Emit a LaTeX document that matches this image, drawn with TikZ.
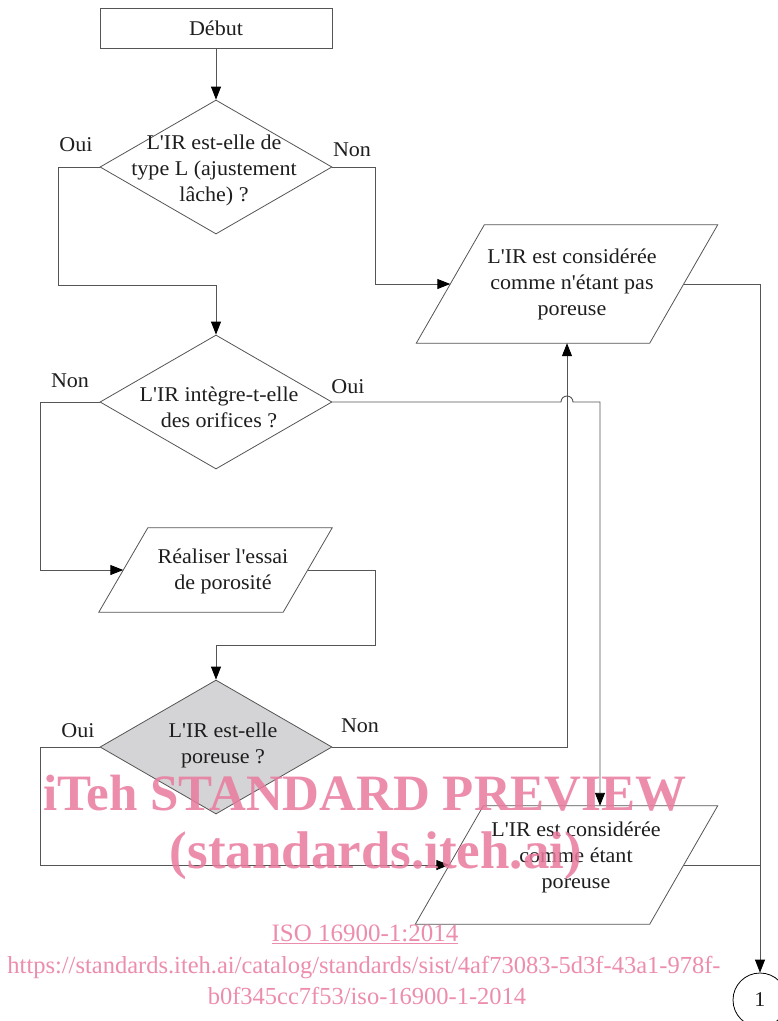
\documentclass[tikz,border=0pt]{standalone}
\usepackage{fontspec}
\setmainfont[FakeStretch=1.05,Ligatures=TeXOff]{Liberation Serif}
\newfontfamily\wmfont{Liberation Serif}
\usetikzlibrary{shapes.geometric,arrows.meta,calc}
\definecolor{ln}{RGB}{85,85,85}
\definecolor{tx}{RGB}{30,30,30}
\definecolor{wm}{RGB}{234,122,158}
\definecolor{gfill}{RGB}{212,212,214}
\begin{document}
\begin{tikzpicture}[x=1pt,y=-1pt,
 line/.style={draw=ln,line width=0.9pt},
 arr/.style={line,-{Triangle[length=13pt,width=10pt,color=black]}},
 boxnode/.style={draw=ln,line width=0.9pt,rectangle,minimum width=232pt,minimum height=40pt,inner sep=0pt},
 dia/.style={draw=ln,line width=0.8pt,diamond,minimum width=232pt,minimum height=134pt,inner sep=0pt},
 parabase/.style={rectangle,inner sep=0pt},
 paraline/.style={draw=ln,line width=0.8pt},
 txt/.style={text=tx,font=\fontsize{21}{26}\selectfont,align=center,inner sep=0pt},
 lbl/.style={text=tx,font=\fontsize{21}{22}\selectfont,inner sep=0pt},
 wmk/.style={text=wm,text opacity=0.85,inner sep=0pt,anchor=base}]
\fill[white] (0,0) rectangle (778,1021);
\useasboundingbox (0,0) rectangle (778,1021);

% nodes
\node[boxnode] (start) at (216,28) {};
\node[txt] (tstart) at (216,28) {Début};

\node[dia] (d1) at (216,167) {};
\node[txt] (td1) at (214,170) {L'IR est-elle de\\type L (ajustement\\lâche) ?};

\node[parabase,minimum width=233pt,minimum height=118pt] (p1) at (567,284) {};
\draw[paraline] ([xshift=34pt]p1.north west) -- ([xshift=34pt]p1.north east) -- ([xshift=-34pt]p1.south east) -- ([xshift=-34pt]p1.south west) -- cycle;
\node[txt] (tp1) at (572,284) {L'IR est considérée\\comme n'étant pas\\poreuse};

\node[dia] (d2) at (216,402) {};
\node[txt] (td2) at (219,407) {L'IR intègre-t-elle\\des orifices ?};

\node[parabase,minimum width=184pt,minimum height=84pt] (p2) at (215.5,570) {};
\draw[paraline] ([xshift=24.5pt]p2.north west) -- ([xshift=24.5pt]p2.north east) -- ([xshift=-24.5pt]p2.south east) -- ([xshift=-24.5pt]p2.south west) -- cycle;
\node[txt] (tp2) at (223,571) {Réaliser l'essai\\de porosité};

\node[dia,fill=gfill] (d3) at (216,747) {};
\node[txt] (td3) at (223,745) {L'IR est-elle\\poreuse ?};

\node[parabase,minimum width=234pt,minimum height=118pt] (p3) at (566.5,865) {};
\draw[paraline] ([xshift=34pt]p3.north west) -- ([xshift=34pt]p3.north east) -- ([xshift=-34pt]p3.south east) -- ([xshift=-34pt]p3.south west) -- cycle;
\node[txt] (tp3) at (576,857) {L'IR est considérée\\comme étant\\poreuse};

\node[draw=black,line width=0.8pt,circle,minimum size=54pt,inner sep=0pt,text=tx,font=\fontsize{21}{22}\selectfont] (c) at (760,1000) {1};

% labels
\node[lbl] (l1) at (76,145) {Oui};
\node[lbl] (l2) at (352,150) {Non};
\node[lbl] (l3) at (70,381) {Non};
\node[lbl] (l4) at (348,387) {Oui};
\node[lbl] (l5) at (78,731) {Oui};
\node[lbl] (l6) at (360,726) {Non};

% helper coordinates
\coordinate (a1) at (58,285);
\coordinate (a2) at (375,284);
\coordinate (a3) at (40,570);
\coordinate (a4) at (375,645);
\coordinate (a5) at (40,865);
\coordinate (h1) at (561,402);
\coordinate (h2) at (600,402);
\coordinate (r1) at (760,284);

% connectors
\draw[arr] (start.south) -- (d1.north);
\draw[arr] (d1.west) -| (a1) -| (d2.north);
\draw[arr] (d1.east) -| (a2) -- (p1.west);
\draw[arr] (p1.east) -- (r1) -- (c.north);
\draw[line] (p3.east) -- (p3.east -| r1);
\draw[arr] (d2.west) -| (a3) -- (p2.west);
\draw[arr] (d2.east) -- (h1) arc[start angle=180,end angle=0,radius=6pt] -- (h2) -- (h2 |- p3.north);
\draw[arr] (p2.east) -| (a4) -| (d3.north);
\draw[arr] (d3.west) -| (a5) -- (p3.west);
\draw[arr] (d3.east) -| (p1.south);

% watermark
\node[wmk,font=\wmfont\bfseries\fontsize{51}{51}\selectfont] (w1) at (365,810) {iTeh STANDARD PREVIEW};
\node[wmk,font=\wmfont\bfseries\fontsize{53}{53}\selectfont] (w2) at (376,868) {(standards.iteh.ai)};
\node[wmk,font=\wmfont\fontsize{25}{25}\selectfont] (w3) at (365,941) {\underline{ISO 16900-1:2014}};
\node[wmk,font=\wmfont\fontsize{24.5}{25}\selectfont] (w4) at (364,973) {https://standards.iteh.ai/catalog/standards/sist/4af73083-5d3f-43a1-978f-};
\node[wmk,font=\wmfont\fontsize{24.5}{25}\selectfont] (w5) at (367,1004) {b0f345cc7f53/iso-16900-1-2014};
\end{tikzpicture}
\end{document}
